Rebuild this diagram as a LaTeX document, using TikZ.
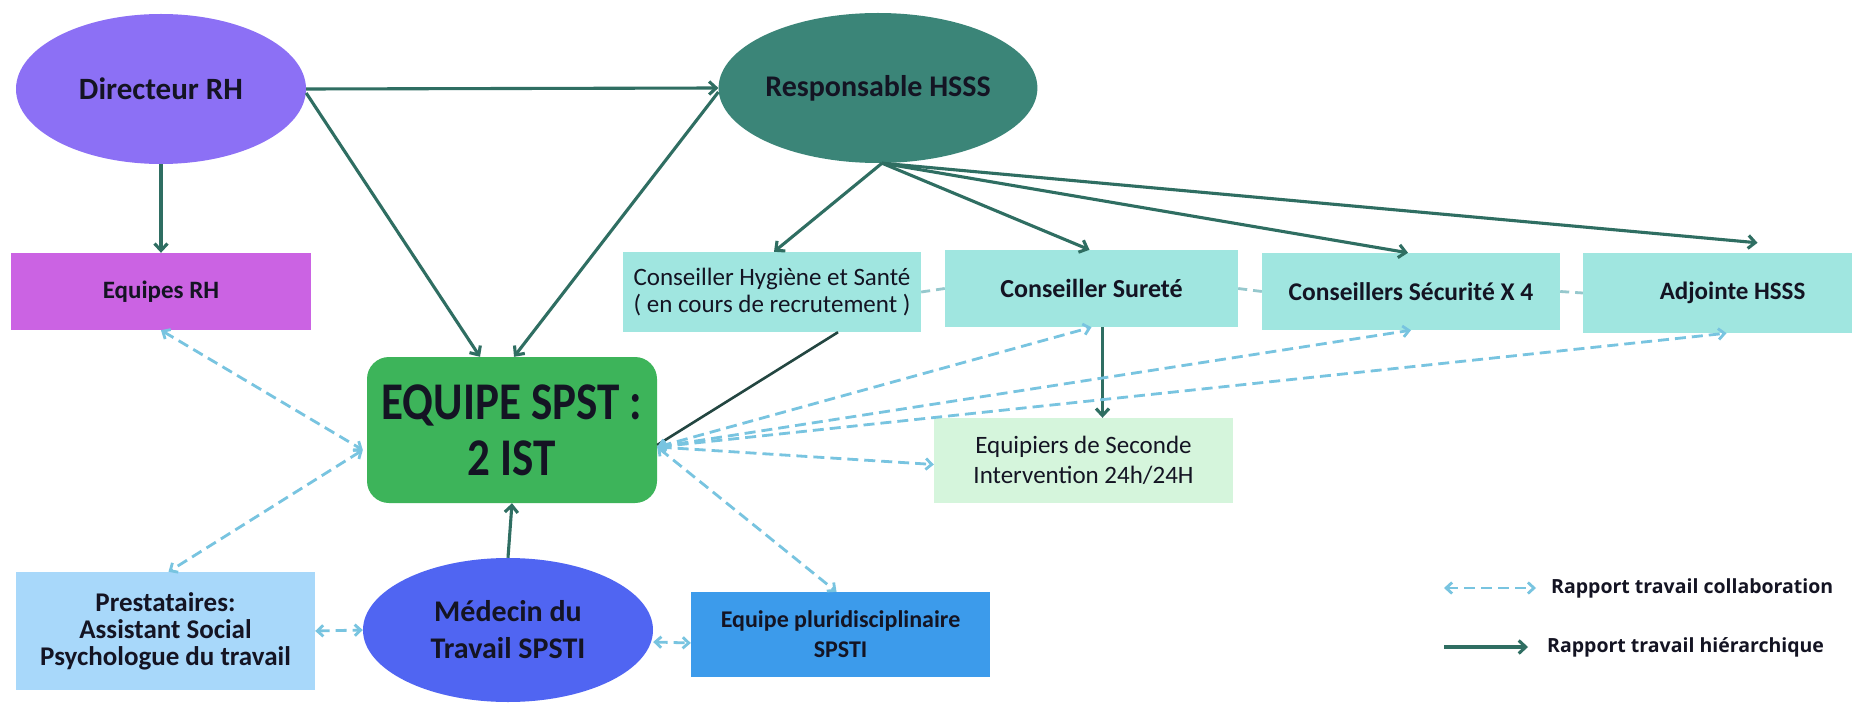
\documentclass[tikz,border=0pt]{standalone}
\usepackage{fontspec}
\setmainfont{Carlito}
\newfontfamily\legendfont{Open Sans}
\newfontfamily\spstfont[FakeStretch=0.85]{Carlito}
\usetikzlibrary{arrows.meta,shapes.geometric,calc}
\definecolor{cDir}{RGB}{140,112,245}
\definecolor{cEqRH}{RGB}{203,99,227}
\definecolor{cResp}{RGB}{59,133,120}
\definecolor{cTeal}{RGB}{160,230,224}
\definecolor{cSpst}{RGB}{61,180,90}
\definecolor{cEqui}{RGB}{213,245,220}
\definecolor{cPrest}{RGB}{168,216,250}
\definecolor{cMed}{RGB}{80,101,242}
\definecolor{cPluri}{RGB}{60,155,235}
\definecolor{cHier}{RGB}{47,110,98}
\definecolor{cDark}{RGB}{35,70,65}
\definecolor{cColl}{RGB}{120,196,224}
\definecolor{cLink}{RGB}{150,200,205}
\definecolor{cText}{RGB}{20,20,35}
\begin{document}
\begin{tikzpicture}[x=1pt,y=-1pt,
  every node/.style={text=cText},
  ell/.style={ellipse, inner sep=0pt, align=center, font=\fontsize{31}{34}\selectfont\bfseries},
  box/.style={rectangle, inner sep=0pt, align=center, font=\fontsize{25}{28}\selectfont\bfseries},
  hier/.style={draw=cHier, line width=3.1pt, -{Straight Barb[length=7pt,width=13pt]}},
  coll/.style={draw=cColl, line width=2.8pt, dash pattern=on 11pt off 6pt, {Straight Barb[length=6pt,width=11pt]}-{Straight Barb[length=6pt,width=11pt]}},
  link/.style={draw=cLink, line width=2.8pt, dash pattern=on 9pt off 6pt},
  legtext/.style={anchor=west, inner sep=0pt, font=\legendfont\fontsize{19.5}{22}\selectfont\bfseries},
]
\useasboundingbox (0,0) rectangle (1852,703);
\clip (0,0) rectangle (1852,703);
\fill[white] (0,0) rectangle (1852,703);

% nodes
\node[ell, fill=cDir, minimum width=290pt, minimum height=150pt] (dir) at (161,89) {Directeur RH};
\node[box, fill=cEqRH, minimum width=300pt, minimum height=77pt] (eqrh) at (161,291.5) {Equipes RH};
\node[ell, fill=cResp, font=\fontsize{30}{34}\selectfont\bfseries, minimum width=291pt, minimum height=150pt] (resp) at (878,88) {Responsable HSSS};
\node[box, fill=cTeal, font=\fontsize{25}{27}\selectfont, minimum width=298pt, minimum height=80pt] (hyg) at (772,292) {Conseiller Hygiène et Santé\\( en cours de recrutement )};
\node[box, fill=cTeal, font=\fontsize{26}{28}\selectfont\bfseries, minimum width=293pt, minimum height=77pt] (sur) at (1091.5,288.5) {Conseiller Sureté};
\node[box, fill=cTeal, font=\fontsize{25.5}{28}\selectfont\bfseries, minimum width=298pt, minimum height=77pt] (secu) at (1411,291.5) {Conseillers Sécurité X 4};
\node[box, fill=cTeal, minimum width=299pt, minimum height=80pt] (adj) at (1732.5,293) {Adjointe HSSS};
\node[rectangle, rounded corners=22pt, fill=cSpst, minimum width=290pt, minimum height=146pt, align=center, inner sep=0pt, font=\spstfont\fontsize{53}{56}\selectfont\bfseries] (spst) at (512,430) {EQUIPE SPST :\\2 IST};
\node[box, fill=cEqui, font=\fontsize{25}{30}\selectfont, minimum width=299pt, minimum height=85pt] (equ) at (1083.5,460.5) {Equipiers de Seconde\\Intervention 24h/24H};
\node[box, fill=cPrest, font=\fontsize{27}{27}\selectfont\bfseries, minimum width=299pt, minimum height=118pt] (prest) at (165.5,631) {Prestataires:\\Assistant Social\\Psychologue du travail};
\node[ell, fill=cMed, minimum width=290pt, minimum height=144pt, font=\fontsize{30}{37}\selectfont\bfseries] (med) at (508,630) {Médecin du\\Travail SPSTI};
\node[box, fill=cPluri, font=\fontsize{24}{30}\selectfont\bfseries, minimum width=299pt, minimum height=85pt] (pluri) at (840.5,634.5) {Equipe pluridisciplinaire\\SPSTI};

% dashed links between top boxes
\draw[link] (hyg.east) -- (sur.west);
\draw[link] (sur.east) -- (secu.west);
\draw[link] (secu.east) -- (adj.west);

% hierarchical connectors
\draw[hier] (dir.south) -- (eqrh.north);
\draw[hier] (dir.east) -- (resp.west);
\draw[hier] ([yshift=-4pt]dir.east) -- ([xshift=-32pt]spst.north);
\draw[hier] ([yshift=-4pt]resp.west) -- ([xshift=2pt]spst.north);
\draw[hier] ([xshift=4pt]resp.south) -- ([xshift=2pt]hyg.north);
\draw[hier] ([xshift=4pt]resp.south) -- ([xshift=-2pt]sur.north);
\draw[hier] ([xshift=4pt]resp.south) -- ([xshift=-3pt]secu.north);
\draw[hier] ([xshift=4pt]resp.south) -- ([xshift=25pt,yshift=10pt]adj.north);
\draw[hier, -, draw=cDark, line width=2.6pt] ([xshift=66pt]hyg.south) -- ([yshift=-15pt]spst.east);
\draw[hier] ([xshift=11pt]sur.south) -- ([xshift=11pt]sur.south |- equ.north);
\draw[hier] (med.north) -- (spst.south);

% collaboration connectors
\coordinate (spR) at ([yshift=-17pt]spst.east);
\coordinate (spL) at ([xshift=-4pt,yshift=-20pt]spst.west);
\draw[coll] (spR) -- (sur.south);
\draw[coll] (spR) -- (secu.south);
\draw[coll] (spR) -- ([xshift=-6pt]adj.south);
\draw[coll] (spR) -- ([yshift=-4pt]equ.west);
\draw[coll] (spR) -- ([xshift=-4pt]pluri.north);
\draw[coll] (eqrh.south) -- (spL);
\draw[coll] (spL) -- ([xshift=3pt]prest.north);
\draw[coll] (prest.east) -- (med.west);
\draw[coll] ([yshift=-12pt]med.east) -- ([yshift=-8.5pt]pluri.west);

% legend
\coordinate (la1) at (1444,588);
\coordinate (la2) at (1536,588);
\draw[coll] (la1) -- (la2);
\node[legtext] (lt1) at (1551,588) {Rapport travail collaboration};
\coordinate (lb1) at (1444,647);
\coordinate (lb2) at (1528,647);
\draw[hier] (lb1) -- (lb2);
\node[legtext] (lt2) at (1547,647) {Rapport travail hiérarchique};
\end{tikzpicture}
\end{document}
